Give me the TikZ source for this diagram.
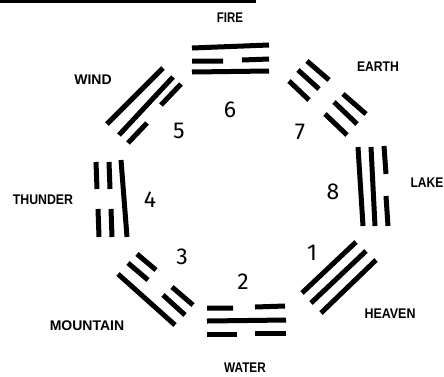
\documentclass[tikz,border=0pt]{standalone}
\usepackage{fontspec}
\usepackage{graphicx}
\newfontfamily\labfont{Liberation Sans}
\newfontfamily\numfont{Fira Sans}
\newcommand{\lbl}[2]{\scalebox{#1}[1]{#2}}
\tikzset{
  bar/.style={line width=5pt, line cap=butt, black},
  lab/.style={inner sep=0pt, font=\labfont\bfseries\fontsize{14}{14}\selectfont},
  num/.style={inner sep=0pt, font=\numfont\fontsize{23}{23}\selectfont}
}
\begin{document}
\begin{tikzpicture}[x=1pt,y=-1pt]
\useasboundingbox (0,0) rectangle (444,376);
\fill[black] (0,0) rectangle (256,3);
% Fire
\draw[bar] (192,48)--(269,45);
\draw[bar] (192,61)--(223,61) (242,60)--(269,59);
\draw[bar] (192,72)--(269,71);
% Earth
\draw[bar] (307,61)--(329,80) (343,94)--(366,114);
\draw[bar] (298,70)--(319,89) (334,102)--(357,124);
\draw[bar] (289,81)--(309,100) (325,114)--(347,135);
% Lake
\draw[bar] (358,147)--(363,226);
\draw[bar] (371,147)--(375,226);
\draw[bar] (384,146)--(386,174) (386,196)--(388,226);
% Heaven
\draw[bar] (302,293)--(356,242);
\draw[bar] (311,303)--(366,251);
\draw[bar] (321,313)--(376,260);
% Water
\draw[bar] (207,308)--(233,308) (255,307)--(285,306);
\draw[bar] (207,321)--(286,320);
\draw[bar] (207,334)--(237,334) (255,333)--(286,333);
% Mountain
\draw[bar] (118,274)--(175,325);
\draw[bar] (137,254)--(156,270) (172,287)--(193,305);
\draw[bar] (128,263)--(148,280) (163,295)--(185,315);
% Thunder
\draw[bar] (96,162)--(97,189) (98,209)--(99,237);
\draw[bar] (109,162)--(110,189) (111,209)--(112,237);
\draw[bar] (121,160)--(127,237);
% Wind
\draw[bar] (107,124)--(163,68);
\draw[bar] (119,135)--(173,77);
\draw[bar] (161,105)--(181,84) (128,143)--(147,123);
% labels
\node[lab] (fire) at (230,18) {\lbl{0.82}{FIRE}};
\node[lab] (earth) at (378,67) {\lbl{0.87}{EARTH}};
\node[lab] (wind) at (93,80) {\lbl{1.0}{WIND}};
\node[lab] (lake) at (427,183) {\lbl{0.86}{LAKE}};
\node[lab] (thunder) at (43,200) {\lbl{0.88}{THUNDER}};
\node[lab] (mountain) at (87,326) {\lbl{1.0}{MOUNTAIN}};
\node[lab] (heaven) at (390,314) {\lbl{0.89}{HEAVEN}};
\node[lab] (water) at (245,368) {\lbl{0.84}{WATER}};
% numbers
\node[num] (n6) at (230,110) {6};
\node[num] (n7) at (300,132) {7};
\node[num] (n5) at (179,131) {5};
\node[num] (n4) at (150,200) {4};
\node[num] (n8) at (333,192) {8};
\node[num] (n3) at (182,257) {3};
\node[num] (n2) at (243,282) {2};
\node[num] (n1) at (312,253) {1};
\end{tikzpicture}
\end{document}
